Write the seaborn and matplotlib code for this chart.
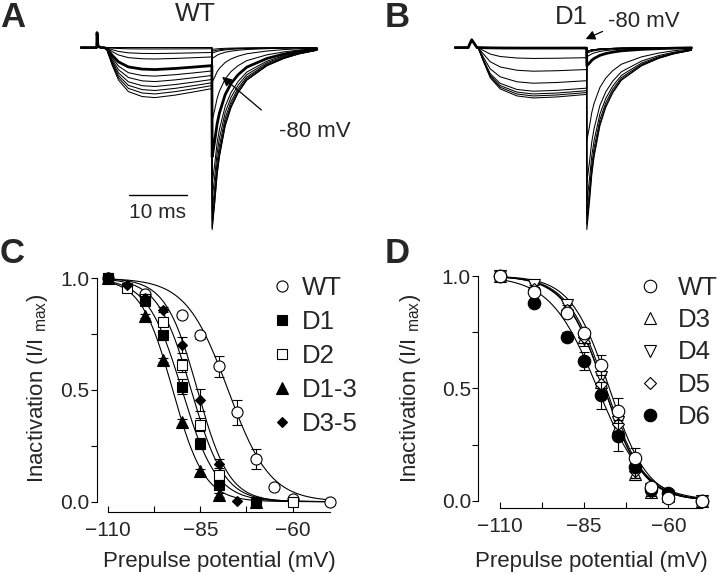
import numpy as np
import pandas as pd
import matplotlib
matplotlib.use("Agg")
import matplotlib.pyplot as plt
from matplotlib.lines import Line2D
import seaborn as sns

sns.set_style("ticks")
plt.rcParams['font.family'] = ['Liberation Sans', 'DejaVu Sans']
plt.rcParams['mathtext.fontset'] = 'custom'
plt.rcParams['mathtext.rm'] = 'Liberation Sans'

# ---- current traces (A, B): time in ms, current relative to largest test peak ----
STEP_T = 19.8
HOLD_T_A = [-2.8, -0.05, 0.0, 0.15, 0.6]
HOLD_I_A = [0, 0, 0.082, 0.01, 0]
HOLD_T_B = [-2.9, -0.6, 0.0, 0.9]
HOLD_I_B = [0, 0, 0.043, 0]
PRE_T_A = [1.2, 1.7, 2.6, 3.7, 5.4, 7.8, 10.0, 13.5, 17.0, 19.8]
PRE_SHAPE_A = [0, 0.05, 0.35, 0.65, 0.88, 0.98, 1.0, 0.95, 0.88, 0.82]
PRE_T_B = [1.1, 2.0, 3.2, 4.9, 7.8, 10.6, 14.7, 19.8]
PRE_SHAPE_B = [0, 0.27, 0.6, 0.82, 0.96, 1.0, 0.98, 0.93]
TEST_T = [0.05, 0.5, 0.9, 1.3, 2.3, 3.3, 4.5, 6.0, 7.3, 9.5, 12.4, 15.0, 18.1]
TEST_SHAPE = [1.0, 0.85, 0.7, 0.6, 0.43, 0.33, 0.25, 0.18, 0.15, 0.1, 0.06, 0.035, 0.015]

PRE_A = [0, 0, 0, .008, .033, .063, .121, .157, .187, .214, .236, .255, .275]
PEAK_A = [1.0, 0.99, 0.95, 0.9, 0.83, 0.75, 0.6, 0.4, 0.19, 0.06, 0.03, 0.02, 0.01]
THICK_A = 6
PRE_B = [0, 0, 0, 0, 0, 0, 0.003, 0.06, 0.13, 0.196, 0.24, 0.255, 0.266, 0.277]
PEAK_B = [1.0, 0.97, 0.92, 0.85, 0.74, 0.51, 0.1, 0.05, 0.03, 0.02, 0.02, 0.02, 0.02, 0.02]
THICK_B = 6

# ---- steady-state inactivation (C, D) ----
C_V_WT = [-110, -100, -90, -85, -80, -75, -70, -65, -60, -50]
C_WT = [1.0, 0.93, 0.835, 0.745, 0.605, 0.40, 0.19, 0.065, 0.01, 0.0]
C_WT_ERR = [0, 0, 0.01, 0.015, 0.045, 0.055, 0.045, 0.01, 0, 0]
C_V_D1 = [-110, -100, -95, -90, -85, -80, -70]
C_D1 = [1.0, 0.90, 0.745, 0.515, 0.26, 0.075, 0.0]
C_D1_ERR = [0, 0.01, 0.02, 0.035, 0.025, 0.01, 0]
C_V_D2 = [-110, -105, -100, -95, -90, -85, -80, -70, -60]
C_D2 = [1.0, 0.955, 0.905, 0.805, 0.61, 0.345, 0.12, 0.0, 0.0]
C_D2_ERR = [0, 0.01, 0.01, 0.015, 0.03, 0.03, 0.015, 0, 0]
C_V_D13 = [-110, -100, -95, -90, -85, -80, -70]
C_D13 = [1.0, 0.83, 0.635, 0.355, 0.135, 0.03, 0.0]
C_D13_ERR = [0, 0.01, 0.01, 0.015, 0.01, 0.01, 0]
C_V_D35 = [-110, -105, -100, -95, -90, -85, -80, -75, -70]
C_D35 = [1.0, 0.97, 0.91, 0.86, 0.70, 0.455, 0.17, 0.005, 0.0]
C_D35_ERR = [0, 0, 0.01, 0.01, 0.035, 0.048, 0.02, 0, 0]
# Boltzmann fits: (V1/2, slope k)
C_FIT = [(-77.5, 5.7), (-90.0, 4.7), (-87.5, 4.5), (-92.5, 4.3), (-85.8, 4.3)]

D_V = [-110, -100, -90, -85, -80, -75, -70, -65, -60, -50]
D_WT = [1.0, 0.93, 0.835, 0.745, 0.605, 0.40, 0.19, 0.06, 0.01, 0.0]
D_WT_ERR = [0, 0.01, 0.015, 0.02, 0.045, 0.055, 0.045, 0.015, 0.01, 0]
D_D3 = [1.0, 0.95, 0.86, 0.73, 0.53, 0.33, 0.12, 0.04, 0.02, 0.0]
D_D3_ERR = [0, 0.01, 0.02, 0.03, 0.04, 0.04, 0.03, 0.02, 0.01, 0.01]
D_D4 = [1.0, 0.96, 0.87, 0.72, 0.55, 0.35, 0.13, 0.05, 0.02, 0.0]
D_D4_ERR = [0, 0.01, 0.02, 0.03, 0.04, 0.04, 0.03, 0.02, 0.01, 0.01]
D_D5 = [1.0, 0.94, 0.85, 0.73, 0.52, 0.34, 0.13, 0.04, 0.01, 0.0]
D_D5_ERR = [0, 0.01, 0.02, 0.03, 0.04, 0.04, 0.03, 0.02, 0.01, 0.01]
D_D6 = [1.0, 0.88, 0.73, 0.62, 0.47, 0.29, 0.15, 0.05, 0.035, 0.0]
D_D6_ERR = [0, 0.01, 0.02, 0.04, 0.06, 0.07, 0.05, 0.03, 0.01, 0.01]
D_FIT = [(-77.5, 5.7), (-79.0, 5.8), (-78.5, 5.8), (-79.0, 5.9), (-81.0, 7.0)]


def boltz(v, vh, k):
    return 1.0 / (1.0 + np.exp((v - vh) / k))


def build_traces(hold_t, hold_i, pre_t, pre_shape, pre_amp, peak):
    parts = []
    for n, (a, p) in enumerate(zip(pre_amp, peak)):
        t = list(hold_t) + list(pre_t) + [STEP_T + x for x in TEST_T]
        i = list(hold_i) + [-a * s for s in pre_shape] + [-p * s for s in TEST_SHAPE]
        parts.append(pd.DataFrame({"t": t, "I": i, "trace": n}))
    return pd.concat(parts, ignore_index=True)


def draw_traces(ax, df, thick):
    sns.lineplot(data=df[df.trace != thick], x="t", y="I", units="trace",
                 estimator=None, sort=False, color="k", lw=0.75, ax=ax)
    sns.lineplot(data=df[df.trace == thick], x="t", y="I", estimator=None,
                 sort=False, color="k", lw=2.0, ax=ax)
    ax.set_xlim(-3, 40)
    ax.set_ylim(-1.05, 0.12)
    ax.axis("off")


fig = plt.figure(figsize=(7.2, 5.75), dpi=100)

# ---------------- A ----------------
axA = fig.add_axes([0.1106, 0.585, 0.3464, 0.3703])
draw_traces(axA, build_traces(HOLD_T_A, HOLD_I_A, PRE_T_A, PRE_SHAPE_A, PRE_A, PEAK_A), THICK_A)
axA.text(16.9, 0.184, "WT", ha="center", va="center", fontsize=19, clip_on=False)
axA.plot([5.5, 15.5], [-0.81, -0.81], color="k", lw=1.0)
axA.text(10.5, -0.904, "10 ms", ha="center", va="center", fontsize=15)
axA.annotate("", xy=(21.2, -0.151), xytext=(28.7, -0.353),
             arrowprops=dict(arrowstyle="-|>", color="k", lw=0.9, mutation_scale=14))
axA.text(31.4, -0.463, "-80 mV", ha="left", va="center", fontsize=16)

# ---------------- B ----------------
axB = fig.add_axes([0.631, 0.585, 0.3464, 0.3703])
draw_traces(axB, build_traces(HOLD_T_B, HOLD_I_B, PRE_T_B, PRE_SHAPE_B, PRE_B, PEAK_B), THICK_B)
axB.text(17.1, 0.17, "D1", ha="center", va="center", fontsize=18.5, clip_on=False)
axB.annotate("", xy=(19.2, 0.04), xytext=(23.0, 0.095), annotation_clip=False,
             arrowprops=dict(arrowstyle="-|>", color="k", lw=0.9, mutation_scale=14))
axB.text(23.5, 0.145, "-80 mV", ha="left", va="center", fontsize=16)


def style_iv(ax, xlim, ylim):
    ax.set_xlim(*xlim)
    ax.set_ylim(*ylim)
    sns.despine(ax=ax)
    ax.spines["left"].set_bounds(0, 1)
    ax.spines["bottom"].set_bounds(-110, -50)
    for s in ("left", "bottom"):
        ax.spines[s].set_linewidth(0.8)
        ax.spines[s].set_color("k")
    ax.set_xticks([-110, -85, -60])
    ax.set_xticks([-97.5, -72.5], minor=True)
    ax.set_yticks([0, 0.5, 1.0])
    ax.set_yticks([0.25, 0.75], minor=True)
    ax.set_yticklabels(["0.0", "0.5", "1.0"])
    ax.tick_params(axis="x", which="both", direction="in", length=4, width=0.8,
                   pad=6.5, labelsize=15, color="k")
    ax.tick_params(axis="y", which="both", direction="out", length=4.3, width=0.8,
                   pad=1, labelsize=15, color="k")
    ax.set_xlabel("Prepulse potential (mV)", fontsize=16, va="center")
    ax.set_ylabel(r"Inactivation (I/I $_{\rm max}$)", fontsize=16, va="center", ha="center")


def series(ax, v, y, err, marker, filled, ms, z):
    ax.errorbar(v, y, yerr=err, fmt=marker, ms=ms, mfc="k" if filled else "white",
                mec="k", mew=0.8, ecolor="k", elinewidth=0.8, capsize=3.6,
                capthick=0.8, zorder=z, clip_on=False)


def handle(marker, filled, ms):
    return Line2D([], [], ls="none", marker=marker, ms=ms, mec="k", mew=0.8,
                  mfc="k" if filled else "white")


v_fit = np.linspace(-110, -50, 300)

# ---------------- C ----------------
axC = fig.add_axes([0.1343, 0.1101, 0.3336, 0.4254])
for vh, k in C_FIT:
    sns.lineplot(x=v_fit, y=boltz(v_fit, vh, k), color="k", lw=0.8, ax=axC)
c_series = [
    (C_V_WT, C_WT, C_WT_ERR, "o", False, 8, "WT"),
    (C_V_D2, C_D2, C_D2_ERR, "s", False, 7.5, "D2"),
    (C_V_D1, C_D1, C_D1_ERR, "s", True, 7.5, "D1"),
    (C_V_D13, C_D13, C_D13_ERR, "^", True, 8, "D1-3"),
    (C_V_D35, C_D35, C_D35_ERR, "D", True, 5.6, "D3-5"),
]
for z, (v, y, e, m, f, ms, lab) in enumerate(c_series):
    series(axC, v, y, e, m, f, ms, 3 + z)
style_iv(axC, (-113.1, -48), (-0.045, 1.05))
axC.xaxis.set_label_coords(0.509, -0.203)
axC.yaxis.set_label_coords(-0.247, 0.502)
order = ["WT", "D1", "D2", "D1-3", "D3-5"]
lk = {s[6]: s for s in c_series}
axC.legend([handle(lk[n][3], lk[n][4], lk[n][5]) for n in order], order,
           loc="center left", bbox_to_anchor=(271.4 / 720, 1 - 356 / 575),
           bbox_transform=fig.transFigure, frameon=False, fontsize=18.5,
           handlelength=0.8, handletextpad=0.38, labelspacing=0.385,
           borderpad=0, borderaxespad=0)

# ---------------- D ----------------
axD = fig.add_axes([0.6643, 0.116, 0.3201, 0.4235])
for vh, k in D_FIT:
    sns.lineplot(x=v_fit, y=boltz(v_fit, vh, k), color="k", lw=0.8, ax=axD)
d_series = [
    (D_D3, D_D3_ERR, "^", False, 8.5, "D3"),
    (D_D4, D_D4_ERR, "v", False, 8.5, "D4"),
    (D_D5, D_D5_ERR, "D", False, 6.0, "D5"),
    (D_D6, D_D6_ERR, "o", True, 9, "D6"),
    (D_WT, D_WT_ERR, "o", False, 9, "WT"),
]
for z, (y, e, m, f, ms, lab) in enumerate(d_series):
    series(axD, D_V, y, e, m, f, ms, 3 + z)
style_iv(axD, (-116.4, -48), (-0.034, 1.05))
axD.xaxis.set_label_coords(0.489, -0.218)
axD.yaxis.set_label_coords(-0.294, 0.494)
order = ["WT", "D3", "D4", "D5", "D6"]
lk = {s[5]: s for s in d_series}
axD.legend([handle(lk[n][2], lk[n][3], lk[n][4]) for n in order], order,
           loc="center left", bbox_to_anchor=(639.7 / 720, 1 - 352.5 / 575),
           bbox_transform=fig.transFigure, frameon=False, fontsize=18.5,
           handlelength=0.8, handletextpad=0.7, labelspacing=0.33,
           borderpad=0, borderaxespad=0)

# panel letters
for lab, x, y in [("A", 0, 27), ("B", 385, 27), ("C", 0, 263), ("D", 385, 263)]:
    fig.text(x / 720, 1 - y / 575, lab, fontsize=25, fontweight="bold",
             ha="left", va="baseline")

fig.savefig("out.png", dpi=100)
